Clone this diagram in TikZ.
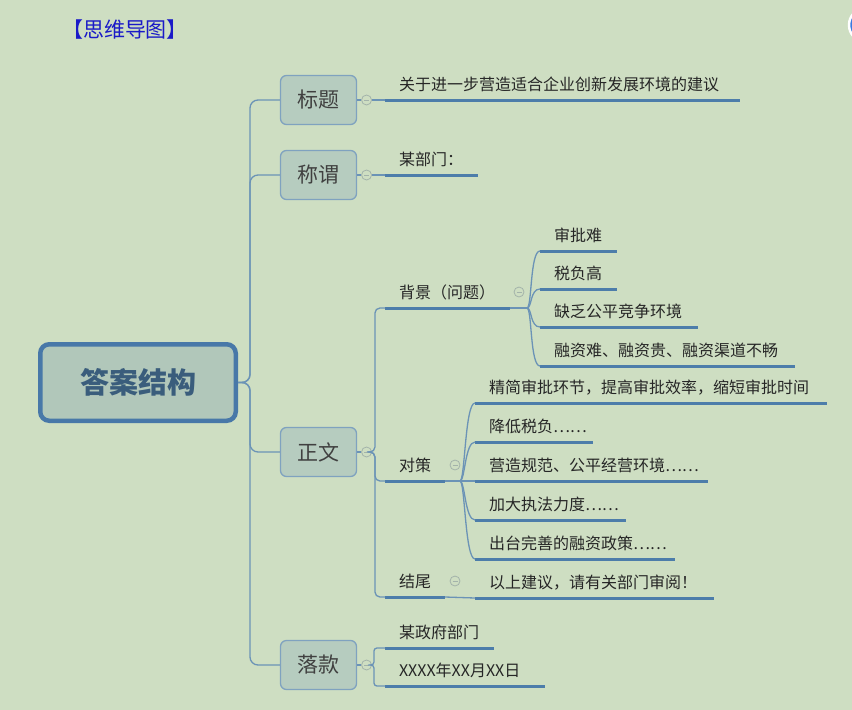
\documentclass[tikz,border=0pt]{standalone}
\usepackage{fontspec}
\setmainfont{Noto Sans CJK SC}
\usepackage{xcolor}
\usetikzlibrary{positioning,calc}
\definecolor{bgmint}{HTML}{CEDEC2}
\definecolor{lineblue}{HTML}{4D7DAA}
\definecolor{thinblue}{HTML}{6B93B6}
\definecolor{boxfill}{HTML}{B6CCBF}
\definecolor{boxedge}{HTML}{7FA2BF}
\definecolor{rootfill}{HTML}{B1C7BA}
\definecolor{rootedge}{HTML}{4878A8}
\definecolor{roottext}{HTML}{3A5D7C}
\definecolor{foldgray}{HTML}{A3B3AA}
\definecolor{titleblue}{HTML}{1A1AC8}
\definecolor{dotblue}{HTML}{3B7BE0}
\newcommand{\fs}[1]{\fontsize{#1}{#1}\selectfont}

\begin{document}
\begin{tikzpicture}[x=1pt,y=-1pt,node distance=4pt,
  root/.style={draw=rootedge,line width=4.5pt,fill=rootfill,rounded corners=9pt,minimum width=195.5pt,minimum height=76.5pt,font=\fs{29}\bfseries,text=roottext},
  topic/.style={draw=boxedge,line width=1.3pt,fill=boxfill,rounded corners=6pt,minimum width=76pt,minimum height=49pt,font=\fs{21},text=black!75},
  leaf/.style={anchor=south west,inner xsep=14pt,inner ysep=10pt,outer sep=0pt,text depth=0pt,font=\fs{16},text=black!85},
  fold/.style={circle,draw=foldgray,line width=0.8pt,minimum size=10pt,inner sep=0pt,
    path picture={\draw[foldgray,line width=0.8pt] ([xshift=-2.5pt]path picture bounding box.center) -- ([xshift=2.5pt]path picture bounding box.center);}},
  conn/.style={draw=thinblue,line width=1.3pt},
  uline/.style={draw=lineblue,line width=3pt}]
\useasboundingbox[fill=bgmint] (0,0) rectangle (852,710);
\clip (0,0) rectangle (852,710);
\node[font=\fs{21},text=titleblue] (head) at (125,30) {【思维导图】};
\node[circle,fill=dotblue,draw=white,line width=2.5pt,minimum size=34pt] (dot) at (866,25) {};
% main topics
\node[root] (root) at (138,382.5) {答案结构};
\node[topic] (bt) at (318.5,100) {标题};
\node[topic] (bc) at (318.5,175) {称谓};
\node[topic] (bz) at (318.5,452) {正文};
\node[topic] (bl) at (318.5,665) {落款};
\foreach \t in {bt,bc,bz,bl}
  \draw[conn,rounded corners=8pt] (root.east) -- ++(12,0) |- (\t.west);
\node[fold,right=of bt] (ft) {};
\node[fold,right=of bc] (fc) {};
\node[fold,right=of bz] (fz) {};
\node[fold,right=of bl] (fl) {};
% subtopics
\node[leaf] (tt) at (385,100) {关于进一步营造适合企业创新发展环境的建议};
\node[leaf] (cw) at (385,175) {某部门：};
\node[leaf] (bj) at (385,308) {背景（问题）};
\node[leaf] (dc) at (385,481) {对策};
\node[leaf] (jw) at (385,597) {结尾};
\node[leaf] (zf) at (385,648) {某政府部门};
\node[leaf] (rq) at (385,686) {XXXX年XX月XX日};
\node[leaf] (bj1) at (540,251) {审批难};
\node[leaf] (bj2) at (540,289) {税负高};
\node[leaf] (bj3) at (540,327) {缺乏公平竞争环境};
\node[leaf] (bj4) at (540,366) {融资难、融资贵、融资渠道不畅};
\node[leaf] (dc1) at (475,403) {精简审批环节，提高审批效率，缩短审批时间};
\node[leaf] (dc2) at (475,442) {降低税负……};
\node[leaf] (dc3) at (475,481) {营造规范、公平经营环境……};
\node[leaf] (dc4) at (475,520) {加大执法力度……};
\node[leaf] (dc5) at (475,559) {出台完善的融资政策……};
\node[leaf] (jw1) at (475,598) {以上建议，请有关部门审阅！};
\node[fold] (fbj) at (519,292) {};
\node[fold] (fdc) at (455,465) {};
\node[fold] (fjw) at (455,581) {};
% underlines
\foreach \n/\l in {tt/355,cw/93,bj/125,dc/60,jw/60,zf/109,rq/160,bj1/77,bj2/77,bj3/158,bj4/255,
    dc1/352,dc2/118,dc3/233,dc4/151,dc5/200,jw1/239}
  \draw[uline] (\n.south west) -- ++(\l,0) coordinate (\n-e);
% connectors
\draw[conn] (bt) -- (ft);
\draw[conn] (ft) -- (tt.south west);
\draw[conn] (bc) -- (fc);
\draw[conn] (fc) -- (cw.south west);
\draw[conn] (bz) -- (fz);
\foreach \n in {bj,dc,jw}
  \draw[conn,rounded corners=5pt] (fz.east) -- ++(3,0) |- (\n.south west);
\draw[conn] (bl) -- (fl);
\foreach \n in {zf,rq}
  \draw[conn,rounded corners=3pt] (fl.east) -- ++(2,0) |- (\n.south west);
\draw[conn] (bj-e) -- ++(17,0) coordinate (bjx);
\foreach \n in {bj1,bj2,bj3,bj4}
  \draw[conn] (bjx) .. controls +(5,0) and +(-10,0) .. (\n.south west);
\draw[conn] (dc-e) -- ++(15,0) coordinate (dcx);
\foreach \n in {dc1,dc2,dc3,dc4,dc5}
  \draw[conn] (dcx) .. controls +(5,0) and +(-10,0) .. (\n.south west);
\draw[conn] (jw-e) -- (jw1.south west);
\end{tikzpicture}
\end{document}
